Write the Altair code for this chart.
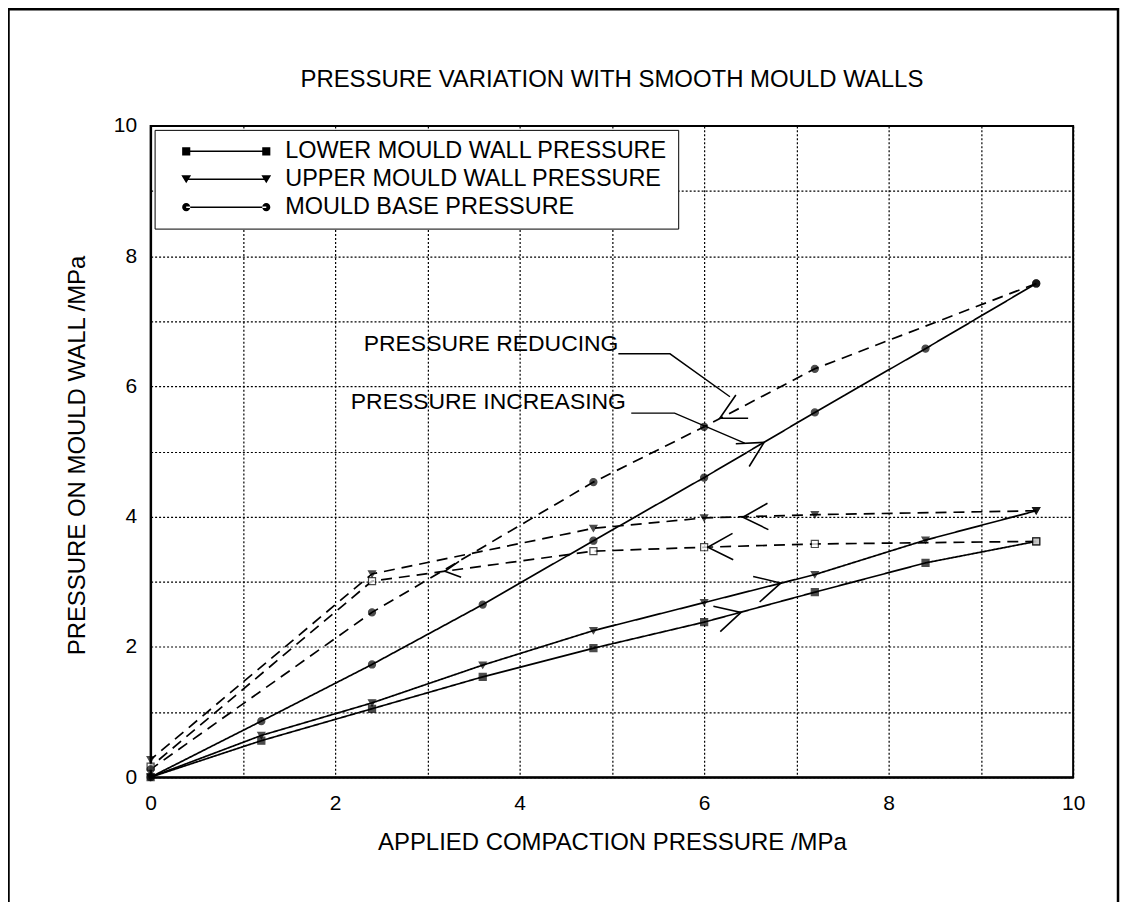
import altair as alt
import pandas as pd

SERIES = ["LOWER MOULD WALL PRESSURE", "UPPER MOULD WALL PRESSURE", "MOULD BASE PRESSURE"]

# pressure increasing (solid)
x_inc = [0, 1.2, 2.4, 3.6, 4.8, 6.0, 7.2, 8.4, 9.6]
lower_inc = [0, 0.56, 1.05, 1.54, 1.98, 2.38, 2.84, 3.29, 3.62]
upper_inc = [0, 0.64, 1.14, 1.72, 2.25, 2.68, 3.11, 3.64, 4.09]
base_inc = [0, 0.86, 1.73, 2.65, 3.63, 4.60, 5.60, 6.58, 7.58]

# pressure reducing (dashed)
x_red = [9.6, 7.2, 6.0, 4.8, 2.4, 0]
lower_red = [3.62, 3.58, 3.53, 3.47, 3.01, 0.16]
upper_red = [4.09, 4.03, 3.98, 3.82, 3.12, 0.27]
base_red = [7.58, 6.27, 5.38, 4.53, 2.53, 0.12]

# annotations
note_text = ["PRESSURE REDUCING", "PRESSURE INCREASING"]
note_x = [2.31, 2.17]
note_y = [6.55, 5.65]
leader_x = [[5.07, 5.63, 6.28], [5.21, 5.68, 6.44]]
leader_y = [[6.50, 6.50, 5.84], [5.59, 5.59, 5.13]]
arrow_x = [6.65, 6.17, 6.83, 6.40, 6.42, 6.04, 3.19]
arrow_y = [5.14, 5.51, 2.98, 2.53, 3.99, 3.53, 3.16]
arrow_angle = [329.5, 152.3, 345.8, 344.9, 178.0, 178.5, 172.4]
arrow_size = [700, 700, 700, 700, 700, 700, 260]

FONT = "Liberation Sans"

rows = []
for name, xs, ys, phase in [
    (SERIES[0], x_inc, lower_inc, "increasing"),
    (SERIES[1], x_inc, upper_inc, "increasing"),
    (SERIES[2], x_inc, base_inc, "increasing"),
    (SERIES[0], x_red, lower_red, "reducing"),
    (SERIES[1], x_red, upper_red, "reducing"),
    (SERIES[2], x_red, base_red, "reducing"),
]:
    for i, (xv, yv) in enumerate(zip(xs, ys)):
        rows.append({"x": xv, "y": yv, "series": name, "phase": phase,
                     "key": name + phase, "order": i})
df = pd.DataFrame(rows)

lead_rows = []
for k, (lx, ly) in enumerate(zip(leader_x, leader_y)):
    for i, (xv, yv) in enumerate(zip(lx, ly)):
        lead_rows.append({"x": xv, "y": yv, "key": k, "order": i})
lead_df = pd.DataFrame(lead_rows)

arrow_df = pd.DataFrame({"x": arrow_x, "y": arrow_y, "angle": arrow_angle, "size": arrow_size})
note_df = pd.DataFrame({"x": note_x, "y": note_y, "text": note_text})

xscale = alt.Scale(domain=[0, 10], nice=False, zero=True)
yscale = alt.Scale(domain=[0, 10], nice=False, zero=True)
even_only = "datum.value % 2 == 0 ? datum.label : ''"
xaxis = alt.Axis(values=list(range(11)), labelExpr=even_only, title="APPLIED COMPACTION PRESSURE /MPa",
                 titleY=66, titleBaseline="middle", labelPadding=15, labelFlush=False,
                 labelOverlap=False, ticks=False, grid=True)
yaxis = alt.Axis(values=list(range(11)), labelExpr=even_only, title="PRESSURE ON MOULD WALL /MPa",
                 titleX=-73, titleY=330, titleBaseline="middle", labelPadding=14, labelFlush=False,
                 labelOverlap=False, ticks=False, grid=True)
X = alt.X("x:Q", scale=xscale, axis=xaxis)
Y = alt.Y("y:Q", scale=yscale, axis=yaxis)

frame = alt.Chart(pd.DataFrame({"a": [0]})).mark_rect(filled=False, stroke="black", strokeWidth=2.5).encode(
    x=alt.value(-142.5), x2=alt.value(970), y=alt.value(-117), y2=alt.value(900))

lines = alt.Chart(df).mark_line(color="black", strokeWidth=1.7).encode(
    x=X, y=Y, detail="key:N", order="order:Q",
    strokeDash=alt.StrokeDash("phase:N", scale=alt.Scale(domain=["increasing", "reducing"],
                                                          range=[[1, 0], [11, 7]]), legend=None))

points = alt.Chart(df).mark_point(filled=True, size=50, strokeWidth=1.2).encode(
    x=X, y=Y,
    shape=alt.Shape("series:N", scale=alt.Scale(domain=SERIES, range=["square", "triangle-down", "circle"]),
                    legend=None),
    fill=alt.condition((alt.datum.series == SERIES[0]) & (alt.datum.phase == "reducing"),
                       alt.value("white"), alt.value("black")),
    stroke=alt.value("black"))

leaders = alt.Chart(lead_df).mark_line(color="black", strokeWidth=1.4).encode(
    x=X, y=Y, detail="key:N", order="order:Q")

arrows = alt.Chart(arrow_df).mark_point(shape="M-1.9,-1L0,0L-1.9,1", filled=False, color="black",
                                         strokeWidth=1.6, opacity=1).encode(
    x=X, y=Y, angle=alt.Angle("angle:Q", scale=None), size=alt.Size("size:Q", scale=None))

notes = alt.Chart(note_df).mark_text(align="left", baseline="alphabetic", font=FONT, fontSize=23,
                                     color="black").encode(x=X, y=Y, text="text:N")

# legend symbols: line drawn as a thin filled bar with a marker at each end
bar = "M-0.614,-0.014H0.866V0.014H-0.614Z"
legend_paths = [
    bar + "M-0.689,-0.075H-0.539V0.075H-0.689ZM0.791,-0.075H0.941V0.075H0.791Z",
    bar + "M-0.704,-0.075H-0.524L-0.614,0.075ZM0.776,-0.075H0.956L0.866,0.075Z",
    bar + "M-0.689,0A0.075,0.075,0,1,0,-0.539,0A0.075,0.075,0,1,0,-0.689,0Z"
    "M0.791,0A0.075,0.075,0,1,0,0.941,0A0.075,0.075,0,1,0,0.791,0Z",
]
legend_layer = alt.Chart(df).transform_filter("datum.x < -100").mark_point(filled=True, color="black").encode(
    shape=alt.Shape("series:N", scale=alt.Scale(domain=SERIES, range=legend_paths),
                    legend=alt.Legend(title=None, orient="none", legendX=4, legendY=4, padding=10,
                                      rowPadding=4, labelOffset=11, labelFontSize=23.5, labelFont=FONT,
                                      labelColor="black", labelLimit=1000, clipHeight=23,
                                      symbolSize=11772, symbolFillColor="black", symbolOpacity=1,
                                      fillColor="white", strokeColor="black")))

chart = alt.layer(frame, lines, leaders, arrows, points, notes, legend_layer).resolve_scale(
    shape="independent"
).properties(
    width=925, height=653,
    autosize=alt.AutoSizeParams(type="none"),
    padding={"left": 143, "top": 117, "right": 50, "bottom": 124},
    title=alt.TitleParams(text="PRESSURE VARIATION WITH SMOOTH MOULD WALLS", fontSize=24,
                          fontWeight="normal", font=FONT, color="black", anchor="middle",
                          baseline="alphabetic", offset=27, dy=130),
).configure(font=FONT, background="white").configure_view(
    stroke="black", strokeWidth=2
).configure_axis(
    domainColor="black", domainWidth=2, gridColor="black", gridDash=[2, 2], gridWidth=1.2,
    gridOpacity=1, labelFont=FONT, labelFontSize=21, labelColor="black",
    titleFont=FONT, titleFontSize=24, titleFontWeight="normal", titleColor="black"
)

chart.save("out.html", embed_options={"renderer": "svg", "actions": False})
